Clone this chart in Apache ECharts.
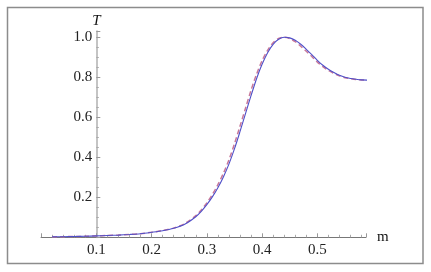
<!DOCTYPE html>
<html><head><meta charset="utf-8">
<script src="https://cdn.jsdelivr.net/npm/echarts@6/dist/echarts.min.js"></script>
<style>html,body{margin:0;padding:0;background:#fff}#c{width:431px;height:272px}</style>
</head><body><div id="c"></div>
<script>
const mValues = [0.02,0.04,0.06,0.08,0.10,0.12,0.14,0.16,0.18,0.20,0.22,0.24,0.26,0.28,0.29,0.30,0.31,0.32,0.33,0.34,0.35,0.36,0.37,0.38,0.39,0.40,0.41,0.42,0.43,0.44,0.45,0.46,0.47,0.48,0.49,0.50,0.51,0.52,0.53,0.54,0.55,0.56,0.57,0.58,0.59];
const solidT = [0.002,0.003,0.004,0.005,0.007,0.009,0.011,0.014,0.018,0.025,0.033,0.045,0.065,0.103,0.13,0.163,0.202,0.248,0.302,0.366,0.442,0.528,0.618,0.708,0.793,0.865,0.923,0.965,0.99,1.0,0.997,0.985,0.965,0.94,0.913,0.885,0.86,0.84,0.824,0.81,0.80,0.794,0.79,0.787,0.786];
const dashedT = [0.002,0.003,0.004,0.005,0.007,0.009,0.011,0.014,0.018,0.025,0.034,0.046,0.068,0.108,0.137,0.172,0.214,0.263,0.32,0.387,0.467,0.555,0.645,0.735,0.815,0.883,0.935,0.973,0.994,1.0,0.994,0.978,0.955,0.93,0.904,0.876,0.853,0.834,0.82,0.807,0.798,0.793,0.789,0.787,0.786];
const xTickLabels = ['0.1','0.2','0.3','0.4','0.5'];
const yTickLabels = ['0.2','0.4','0.6','0.8','1.0'];

const chart = echarts.init(document.getElementById('c'), null, {renderer:'canvas'});
const font = 'Liberation Serif';
const gridLeft = 41.05, gridRight = 65.05, gridTop = 31.3, gridBottom = 34.7;
const xLab = v => { const s = v.toFixed(1); return xTickLabels.includes(s) ? s : ''; };
const yLab = v => { const s = v.toFixed(1); return yTickLabels.includes(s) ? s : ''; };
chart.setOption({
  animation:false,
  backgroundColor:'#fff',
  textStyle:{fontFamily:font},
  grid:{left:gridLeft,right:gridRight,top:gridTop,bottom:gridBottom},
  graphic:[{type:'rect',shape:{x:7.5,y:7.5,width:415.5,height:256},style:{fill:null,stroke:'#8c8c8c',lineWidth:1.5},z:100}],
  xAxis:{type:'value',min:0,max:0.588,interval:0.1,
    name:'m',nameLocation:'end',nameGap:11,
    nameTextStyle:{fontFamily:font,fontSize:15,color:'#111',verticalAlign:'middle',padding:[0,0,6,0]},
    axisLine:{onZero:false,lineStyle:{color:'#777',width:1}},
    axisTick:{inside:true,length:4,lineStyle:{color:'#999'}},
    minorTick:{show:true,splitNumber:5,length:2.5,lineStyle:{color:'#aaa'}},
    splitLine:{show:false},
    axisLabel:{fontFamily:font,fontSize:15,color:'#222',margin:5,formatter:xLab}},
  yAxis:{type:'value',min:0,max:1.03,interval:0.2,position:'left',offset:-(96.3-gridLeft),
    name:'T',nameLocation:'end',nameGap:3,
    nameTextStyle:{fontFamily:font,fontSize:15,fontStyle:'italic',color:'#111',align:'center'},
    axisLine:{show:true,lineStyle:{color:'#c4c4c4',width:2}},
    axisTick:{show:true,inside:true,length:4,lineStyle:{color:'#999'}},
    minorTick:{show:true,splitNumber:4,length:2.5,lineStyle:{color:'#aaa'}},
    splitLine:{show:false},
    axisLabel:{fontFamily:font,fontSize:15,color:'#222',margin:4,formatter:yLab}},
  series:[
    {type:'line',name:'solid',data:mValues.map((m,i)=>[m,solidT[i]]),smooth:0.3,showSymbol:false,
      lineStyle:{color:'#4f4fc8',width:1.1},z:3},
    {type:'line',name:'dashed',data:mValues.map((m,i)=>[m,dashedT[i]]),smooth:0.3,showSymbol:false,
      lineStyle:{color:'#c8789a',width:1.5,type:[5,3]},z:2}
  ]
});
</script></body></html>
